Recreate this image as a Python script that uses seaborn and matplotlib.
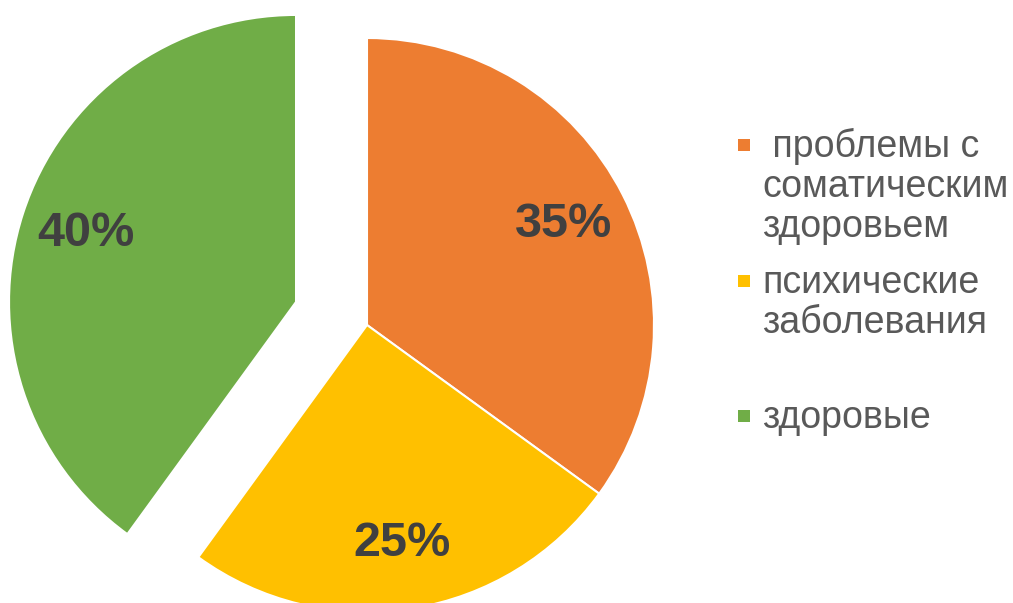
import matplotlib
matplotlib.use("Agg")
import matplotlib.pyplot as plt
import seaborn as sns
from matplotlib.patches import Rectangle

# data
categories = [" проблемы с\nсоматическим\nздоровьем", "психические\nзаболевания", "здоровые"]
shares = [35, 25, 40]
explode = [0, 0, 0.26]
colors = ["#ED7D31", "#FFC000", "#70AD47"]

sns.set_theme(style="white")
plt.rcParams["font.family"] = ["Liberation Sans", "DejaVu Sans"]

W, H = 1013, 603
fig = plt.figure(figsize=(W / 100, H / 100), dpi=100)
ax = fig.add_axes([0, 0, 1, 1])

# pie centre / radius in pixels
cx, cy, R = 367, 325, 287
ax.set_xlim(-cx / R, (W - cx) / R)
ax.set_ylim(-(H - cy) / R, cy / R)
ax.axis("off")

wedges, _, autotexts = ax.pie(
    shares, explode=explode, colors=colors, startangle=90, counterclock=False,
    autopct="%d%%", pctdistance=0.77, radius=1,
    wedgeprops=dict(edgecolor="white", linewidth=1.5),
    textprops=dict(color="#404040", fontsize=35, fontweight="bold"),
)
ax.set_xlim(-cx / R, (W - cx) / R)
ax.set_ylim(-(H - cy) / R, cy / R)
ax.set_aspect("auto")

# legend drawn by hand so the marker sits on the first line
first_baselines = [157, 293, 428]
line_step = 40
for label, col, y0 in zip(categories, colors, first_baselines):
    sq = 12
    fig.add_artist(Rectangle(((744 - sq / 2) / W, 1 - (y0 - 12 + sq / 2) / H), sq / W, sq / H,
                             transform=fig.transFigure, color=col, lw=0))
    for i, line in enumerate(label.split("\n")):
        fig.text(762 / W, 1 - (y0 + i * line_step) / H, line, fontsize=27,
                 color="#595959", va="baseline", ha="left")

fig.savefig("out.png", dpi=100)
